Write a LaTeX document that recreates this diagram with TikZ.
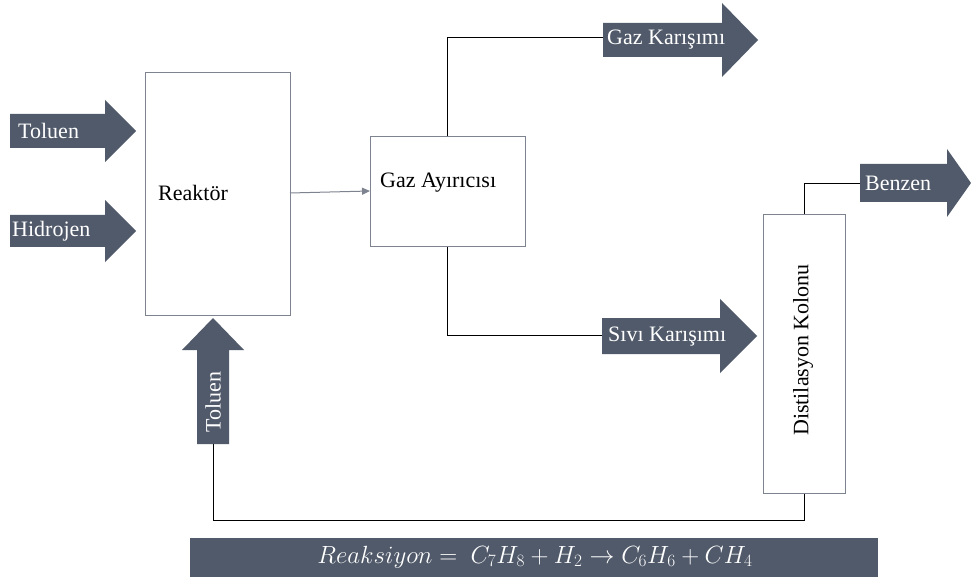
\documentclass[tikz,border=0pt]{standalone}
\usepackage{fontspec}
\setmainfont{Liberation Serif}
\usetikzlibrary{arrows.meta}
\definecolor{slate}{HTML}{515A6A}
\definecolor{boxline}{HTML}{7E8390}
% right-pointing block arrow: x0, xhead, xtip, ycenter, halfbody, halfhead
\newcommand\myRarrow[6]{\fill[slate] (#1,#4-#5) -- (#2,#4-#5) -- (#2,#4-#6) -- (#3,#4) -- (#2,#4+#6) -- (#2,#4+#5) -- (#1,#4+#5) -- cycle;}
\begin{document}
\begin{tikzpicture}[x=1pt,y=-1pt,
  blk/.style={draw=boxline, line width=1pt, fill=white, inner sep=0},
  lbl/.style={font=\fontsize{22}{26}\selectfont, inner sep=0, anchor=west},
  wlbl/.style={lbl, text=white},
  conn/.style={line width=0.9pt, black}]
\useasboundingbox (0,0) rectangle (971,577);

% boxes
\node[blk, minimum width=145, minimum height=242] (reactor) at (217.5,194) {};
\node[blk, minimum width=155, minimum height=110] (sep) at (447.5,192) {};
\node[blk, minimum width=82, minimum height=278] (col) at (804,354) {};
\node[lbl] (reactorlbl) at (158,193) {Reaktör};
\node[lbl] (seplbl) at (380,183) {Gaz Ayırıcısı};
\node[lbl, anchor=center, rotate=90] (collbl) at (803,350) {Distilasyon Kolonu};

% block arrows
\myRarrow{10}{105}{136}{131}{17}{31}
\node[wlbl] (tol) at (18,131) {Toluen};
\myRarrow{10}{105}{136}{231}{16}{31}
\node[wlbl] (hid) at (12,231) {Hidrojen};
\myRarrow{603}{722}{758}{40}{17}{37}
\node[wlbl] (gaz) at (607,40) {Gaz Karışımı};
\myRarrow{602}{720}{757}{336}{18}{37}
\node[wlbl] (siv) at (608,337) {Sıvı Karışımı};
\myRarrow{860}{947}{971}{183}{19}{34}
\node[wlbl] (ben) at (865,183) {Benzen};
\fill[slate] (197,444) -- (197,350) -- (182,350) -- (213,318) -- (244,350) -- (229,350) -- (229,444) -- cycle;
\node[wlbl, anchor=center, rotate=90] (tolup) at (213,402) {Toluen};

% connector anchor points
\coordinate (gazin) at (603,37);
\coordinate (sivin) at (602,335);
\coordinate (benin) at (860,183);
\coordinate (tolbase) at (213,444);
\coordinate (bot) at (0,520);
\coordinate (rout) at (290,193);
\coordinate (sin) at (370,191);

% connectors
\draw[boxline, line width=1pt, -{Triangle[length=8pt,width=7pt]}] (rout) -- (sin);
\draw[conn] (sep.north) |- (gazin);
\draw[conn] (sep.south) |- (sivin);
\draw[conn] (col.north) |- (benin);
\draw[conn] (col.south) -- (col.south |- bot) -| (tolbase);

% reaction bar
\fill[slate] (190,538) rectangle (878,577);
\node[text=white, font=\fontsize{25}{29}\selectfont, inner sep=0] (rxn) at (535,557) {$Reaksiyon =\ C_7H_8 + H_2 \rightarrow C_6H_6 + CH_4$};
\end{tikzpicture}
\end{document}
